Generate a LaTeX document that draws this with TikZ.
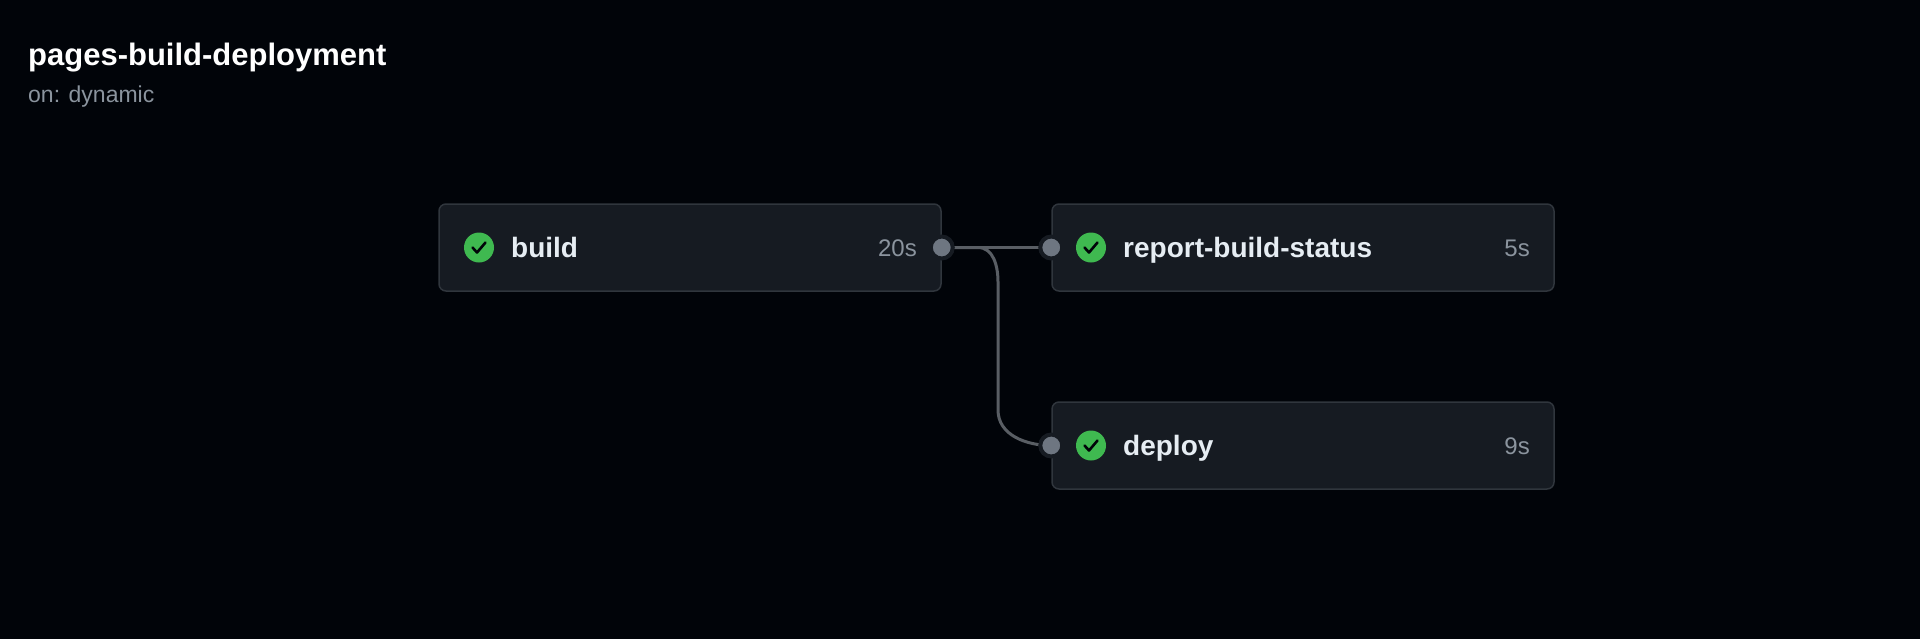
\documentclass[tikz,border=0pt]{standalone}
\usepackage{fontspec}
\setmainfont{Liberation Sans}
\usetikzlibrary{positioning,calc}
\definecolor{ghbg}{HTML}{010409}
\definecolor{ghbox}{HTML}{161B22}
\definecolor{ghborder}{HTML}{30363D}
\definecolor{ghtext}{HTML}{E6EDF3}
\definecolor{ghmuted}{HTML}{8B949E}
\definecolor{ghgreen}{HTML}{3FB950}
\definecolor{ghport}{HTML}{6E7681}
\tikzset{
    job/.style={rectangle, draw=ghborder, line width=1.5pt, fill=ghbox, rounded corners=7pt, minimum width=502pt, minimum height=87pt},
    jobname/.style={text=ghtext, font=\fontsize{28}{32}\selectfont\bfseries, anchor=base west, inner sep=0pt},
    jobtime/.style={text=ghmuted, font=\fontsize{24}{28}\selectfont, anchor=base east, inner sep=0pt},
    ok/.style={circle, fill=ghgreen, minimum size=30pt, inner sep=0pt},
    port/.style={circle, fill=ghport, draw=ghbox, line width=4pt, minimum size=22pt, inner sep=0pt},
    edge/.style={draw=ghborder!80!white, line width=3pt}
}
\newcommand{\tick}[1]{\draw[ghbg, line width=2.6pt, line cap=round, line join=round]
    ($(#1)+(-6.5pt,0)$) -- ($(#1)+(-2pt,-5pt)$) -- ($(#1)+(6.5pt,5pt)$);}
\begin{document}
\begin{tikzpicture}[x=1pt,y=-1pt]
    \useasboundingbox (0,0) rectangle (1920,638);
    \fill[ghbg] (-5,-5) rectangle (1925,645);

    % Title
    \node[anchor=base west, text=white, font=\fontsize{31}{36}\selectfont\bfseries, inner sep=0pt] (title) at (28,65) {pages-build-deployment};
    \node[anchor=base west, text=ghmuted, font=\fontsize{23}{27}\selectfont, inner sep=0pt] (trigger) at (28,102) {on: dynamic};

    % Jobs
    \node[job] (build) at (690,247.5) {};
    \node[job] (report) at (1303,247.5) {};
    \node[job] (deploy) at (1303,445.5) {};

    \node[ok] (buildok) at (479,247.5) {};
    \node[ok] (reportok) at (1091,247.5) {};
    \node[ok] (deployok) at (1091,445.5) {};
    \foreach \x in {buildok,reportok,deployok}
        \tick{\x};

    \node[jobname] at (511,257.5) {build};
    \node[jobname] at (1123,257.5) {report-build-status};
    \node[jobname] at (1123,455.5) {deploy};
    \node[jobtime] at (917,256.5) {20s};
    \node[jobtime] at (1530,256.5) {5s};
    \node[jobtime] at (1530,454.5) {9s};

    % Connections
    \path[edge] (build.east) -- (report.west);
    \path[edge] (build.east) -- (978,247.5) to[out=0,in=90] (998,282) -- (998,410) to[out=-90,in=180] (report.west |- deploy.west);

    % Ports
    \node[port] (buildout) at (build.east) {};
    \node[port] (reportin) at (report.west) {};
    \node[port] (deployin) at (deploy.west) {};
\end{tikzpicture}
\end{document}
